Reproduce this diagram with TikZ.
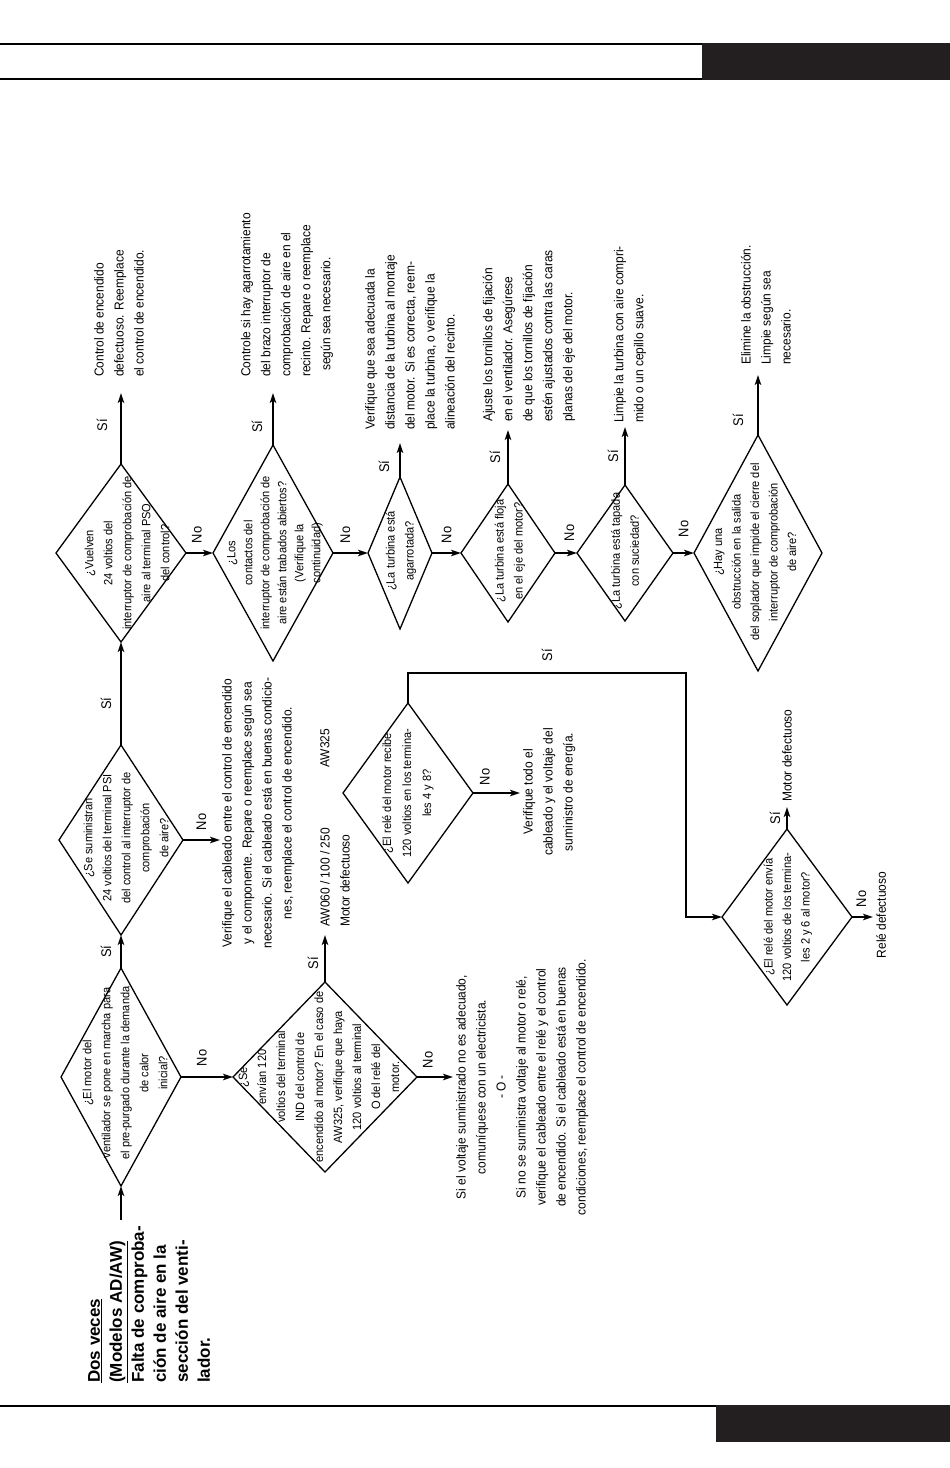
\documentclass[tikz,border=0pt]{standalone}
\usepackage{fontspec}
\setmainfont{Liberation Sans}
\newfontfamily\cond{Liberation Sans}[FakeStretch=0.92]
\usetikzlibrary{positioning, arrows.meta, shapes.geometric, calc}
\definecolor{bandblack}{HTML}{231F20}
\newcommand\fsz[2]{\fontsize{#1}{#2}\selectfont}

\begin{document}
\begin{tikzpicture}[x=1pt, y=-1pt,
    dia/.style={draw=black, shape=diamond, line width=1.3pt, inner sep=0pt, outer sep=0pt},
    qtext/.style={font=\cond\fsz{12}{19}, rotate=90, align=center, inner sep=0pt},
    restext/.style={font=\cond\fsz{13}{20}, rotate=90, align=left, inner sep=0pt, anchor=west},
    mtext/.style={font=\cond\fsz{13}{20}, rotate=90, align=center, inner sep=0pt, anchor=north},
    yn/.style={font=\cond\fsz{14}{16}, rotate=90, inner sep=0pt},
    flow/.style={line width=1.8pt, -{Stealth[length=10pt, width=6.5pt, inset=2.5pt]}}
]
\useasboundingbox (0,0) rectangle (950,1468);

% header and footer bands
\draw[line width=1.4pt] (0,44) -- (702,44) (0,79) -- (702,79);
\fill[bandblack] (702,43.3) rectangle (950,79.7);
\draw[line width=1.4pt] (0,1406) -- (716,1406);
\fill[bandblack] (716,1405.3) rectangle (950,1442);

% title
\node[font=\bfseries\fsz{17}{22}, rotate=90, align=left, inner sep=0pt, anchor=north west] (title) at (88,1383)
    {\underline{Dos veces}\\\underline{(Modelos AD/AW)}\\Falta de comproba-\\ción de aire en la\\sección del venti-\\lador.};

% main column
\node[dia, minimum width=120pt, minimum height=218pt] (d1) at (121,1077) {};
\node[qtext] (q1) at (125,1073) {¿El motor del\\ventilador se pone en marcha para\\el pre-purgado durante la demanda\\de calor\\inicial?};
\node[dia, minimum width=124pt, minimum height=190pt] (d2) at (121,840) {};
\node[qtext] (q2) at (126,838) {¿Se suministran\\24 voltios del terminal PSI\\del control al interruptor de\\comprobación\\de aire?};
\node[dia, minimum width=130pt, minimum height=178pt] (d3) at (121,553) {};
\node[qtext] (q3) at (127,553) {¿Vuelven\\24 voltios del\\interruptor de comprobación de\\aire al terminal PSO\\del control?};

% top row
\node[dia, minimum width=120pt, minimum height=216pt] (d4) at (273,553) {};
\node[qtext, font=\cond\fsz{12}{17}] (q4) at (275,553) {¿Los\\contactos del\\interruptor de comprobación de\\aire están trabados abiertos?\\(Verifique la\\continuidad)};
\node[dia, minimum width=64pt, minimum height=152pt] (d5) at (400,553) {};
\node[qtext] (q5) at (401,551) {¿La turbina está\\agarrotada?};
\node[dia, minimum width=94pt, minimum height=138pt] (d6) at (508,553) {};
\node[qtext] (q6) at (510,551) {¿La turbina está floja\\en el eje del motor?};
\node[dia, minimum width=96pt, minimum height=136pt] (d7) at (625,553) {};
\node[qtext] (q7) at (625,551) {¿La turbina está tapada\\con suciedad?};
\node[dia, minimum width=128pt, minimum height=236pt] (d8) at (758,553) {};
\node[qtext, font=\cond\fsz{12}{18.5}] (q8) at (755,552) {¿Hay una\\obstrucción en la salida\\del soplador que impide el cierre del\\interruptor de comprobación\\de aire?};

% relay branch
\node[dia, minimum width=184pt, minimum height=190pt] (d1b) at (325,1077) {};
\node[qtext] (q1b) at (319,1077) {¿Se\\envían 120\\voltios del terminal\\IND del control de\\encendido al motor? En el caso de\\AW325, verifique que haya\\120 voltios al terminal\\O del relé del\\motor.};
\node[dia, minimum width=130pt, minimum height=180pt] (d1c) at (408,793) {};
\node[qtext, font=\cond\fsz{12}{20}] (q1c) at (408,793) {¿El relé del motor recibe\\120 voltios en los termina-\\les 4 y 8?};
\node[dia, minimum width=130pt, minimum height=176pt] (dz) at (787,917) {};
\node[qtext, font=\cond\fsz{12}{18.5}] (qz) at (788,917) {¿El relé del motor envía\\120 voltios de los termina-\\les 2 y 6 al motor?};
\coordinate (bend) at (686,673);

% results
\node[restext, inner xsep=16pt] (t3) at (119,393) {Control de encendido\\defectuoso. Reemplace\\el control de encendido.};
\node[restext, inner xsep=16pt] (t4) at (287,393) {Controle si hay agarrotamiento\\del brazo interruptor de\\comprobación de aire en el\\recinto. Repare o reemplace\\\hspace*{6pt}según sea necesario.};
\node[restext, inner xsep=13pt] (t5) at (410,443) {Verifique que sea adecuada la\\distancia de la turbina al montaje\\del motor. Si es correcta, reem-\\place la turbina, o verifique la\\alineación del recinto.};
\node[restext, inner xsep=8pt] (t6) at (529,430) {Ajuste los tornillos de fijación\\en el ventilador. Asegúrese\\de que los tornillos de fijación\\estén ajustados contra las caras\\planas del eje del motor.};
\node[restext, inner xsep=4pt] (t7) at (630,427) {Limpie la turbina con aire compri-\\mido o un cepillo suave.};
\node[restext, inner xsep=10pt] (t8) at (766,375) {Elimine la obstrucción.\\Limpie según sea\\necesario.};
\node[restext, inner xsep=5pt] (tz) at (787,807) {Motor defectuoso};
\node[restext, inner xsep=8pt] (t1b) at (335,935) {AW060 / 100 / 250\\Motor defectuoso};
\node[restext] (aw) at (325,768) {AW325};
\node[mtext, inner ysep=2pt] (t2n) at (220,813) {Verifique el cableado entre el control de encendido\\y el componente. Repare o reemplace según sea\\necesario. Si el cableado está en buenas condicio-\\nes, reemplace el control de encendido.};
\node[mtext, inner ysep=3pt] (t1bn) at (453,1087) {Si el voltaje suministrado no es adecuado,\\comuníquese con un electricista.\\- O -\\Si no se suministra voltaje al motor o relé,\\verifique el cableado entre el relé y el control\\de encendido. Si el cableado está en buenas\\condiciones, reemplace el control de encendido.};
\node[mtext, inner ysep=3pt] (t1cn) at (520,792) {Verifique todo el\\cableado y el voltaje del\\suministro de energía.};
\node[mtext, inner ysep=3pt] (tzn) at (873,915) {Relé defectuoso};

% connectors
\coordinate (start) at (121,1220);
\draw[flow] (start) -- (d1.south);
\draw[flow] (d1.north) -- node[xshift=-15pt, yn] {Sí} (d2.south);
\draw[flow] (d2.north) -- node[pos=0.4, xshift=-15pt, yn] {Sí} (d3.south);
\draw[flow] (d3.north) -- node[pos=0.55, xshift=-19pt, yn] {Sí} (d3.north |- t3.west);
\draw[flow] (d4.north) -- node[pos=0.35, xshift=-16pt, yn] {Sí} (d4.north |- t4.west);
\draw[flow] (d5.north) -- node[pos=0.3, xshift=-16pt, yn] {Sí} (d5.north |- t5.west);
\draw[flow] (d6.north) -- node[pos=0.5, xshift=-13pt, yn] {Sí} (d6.north |- t6.west);
\draw[flow] (d7.north) -- node[pos=0.5, xshift=-12pt, yn] {Sí} (d7.north |- t7.west);
\draw[flow] (d8.north) -- node[pos=0.25, xshift=-20pt, yn] {Sí} (d8.north |- t8.west);
\draw[flow] (d1b.north) -- node[pos=0.4, xshift=-12pt, yn] {Sí} (d1b.north |- t1b.west);
\draw[flow] (dz.north) -- node[pos=0.5, xshift=-12pt, yn] {Sí} (dz.north |- tz.west);
\draw[flow] (d1c.north) |- node[pos=0.75, yshift=18pt, yn] {Sí} (bend) |- (dz.west);

\draw[flow] (d1.east) -- node[pos=0.4, yshift=19pt, yn] {No} (d1b.west);
\draw[flow] (d2.east) -- node[pos=0.5, yshift=18pt, yn] {No} (d2.east -| t2n.north);
\draw[flow] (d3.east) -- node[pos=0.4, yshift=18pt, yn] {No} (d4.west);
\draw[flow] (d4.east) -- node[pos=0.35, yshift=18pt, yn] {No} (d5.west);
\draw[flow] (d5.east) -- node[pos=0.5, yshift=18pt, yn] {No} (d6.west);
\draw[flow] (d6.east) -- node[pos=0.65, yshift=20pt, yn] {No} (d7.west);
\draw[flow] (d7.east) -- node[pos=0.5, yshift=24pt, yn] {No} (d8.west);
\draw[flow] (d1b.east) -- node[pos=0.3, yshift=17pt, yn] {No} (d1b.east -| t1bn.north);
\draw[flow] (d1c.east) -- node[pos=0.25, yshift=16pt, yn] {No} (d1c.east -| t1cn.north);
\draw[flow] (dz.east) -- node[pos=0.45, yshift=18pt, yn] {No} (dz.east -| tzn.north);
\end{tikzpicture}
\end{document}
